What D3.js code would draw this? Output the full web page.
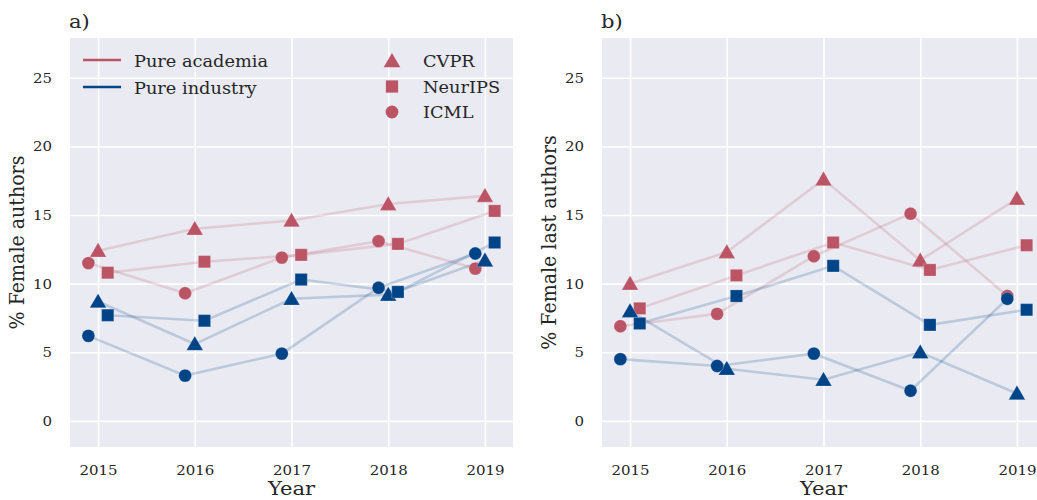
<!DOCTYPE html>
<html lang="en">
  <head>
    <meta charset="UTF-8" />
    <title>Female authors</title>
    <style>
      body { margin: 0; background: #fff; }
      svg text { font-family: "DejaVu Serif", serif; fill: #262626; }
    </style>
  </head>
  <body>
    <div id="chart"></div>
    <script src="https://cdn.jsdelivr.net/npm/d3@7"></script>
    <script>
      var years = [2015, 2016, 2017, 2018, 2019];
      var yTicks = [0, 5, 10, 15, 20, 25];
      var venues = ["CVPR", "NeurIPS", "ICML"];
      var groups = ["Pure academia", "Pure industry"];

      // panel a) % female authors
      var aAcadCVPR = [12.4, 14.0, 14.6, 15.8, 16.4];
      var aAcadNeurIPS = [10.8, 11.6, 12.1, 12.9, 15.3];
      var aAcadICML = [11.5, 9.3, 11.9, 13.1, 11.1];
      var aIndCVPR = [8.7, 5.6, 8.9, 9.2, 11.7];
      var aIndNeurIPS = [7.7, 7.3, 10.3, 9.4, 13.0];
      var aIndICML = [6.2, 3.3, 4.9, 9.7, 12.2];

      // panel b) % female last authors
      var bAcadCVPR = [10.0, 12.3, 17.6, 11.7, 16.2];
      var bAcadNeurIPS = [8.2, 10.6, 13.0, 11.0, 12.8];
      var bAcadICML = [6.9, 7.8, 12.0, 15.1, 9.1];
      var bIndCVPR = [8.0, 3.8, 3.0, 5.0, 2.0];
      var bIndNeurIPS = [7.1, 9.1, 11.3, 7.0, 8.1];
      var bIndICML = [4.5, 4.0, 4.9, 2.2, 8.9];

      var red = "#BB5566", blue = "#004488";
      var offset = { CVPR: 0, NeurIPS: 0.1, ICML: -0.1 };
      var shape = { CVPR: d3.symbolTriangle, NeurIPS: d3.symbolSquare, ICML: d3.symbolCircle };
      var msize = { CVPR: 120, NeurIPS: 150, ICML: 130 };
      var sx = 1.11; // the text in the picture is a bit wider than DejaVu Serif

      var w = 1037, h = 500;
      var svg = d3.select("#chart").append("svg")
                  .attr("width", w)
                  .attr("height", h);

      // put a text at (x,y), stretched horizontally around its anchor
      function label(parent, x, y, size, txt, anchor, rot) {
        return parent.append("text")
          .attr("transform", "translate(" + x + "," + y + ")scale(" + sx + ",1)" + (rot ? "rotate(" + rot + ")" : ""))
          .attr("text-anchor", anchor || "start")
          .attr("font-size", size)
          .text(txt);
      }

      function panel(left, right, name, ylab, data) {
        var top = 38, bottom = 447;
        var g = svg.append("g");
        var xScale = d3.scaleLinear().domain([2014.71, 2019.29]).range([left, right]);
        var yScale = d3.scaleLinear().domain([-1.9, 27.9]).range([bottom, top]);

        var clipId = "clip" + name.charAt(0);
        svg.append("clipPath").attr("id", clipId)
           .append("rect").attr("x", left).attr("y", top)
           .attr("width", Math.min(right, w) - left).attr("height", bottom - top);

        g.append("rect")
         .attr("x", left).attr("y", top)
         .attr("width", right - left).attr("height", bottom - top)
         .attr("fill", "#EAEAF2");

        var xAxis = d3.axisBottom(xScale).tickValues(years).tickFormat(d3.format("d"))
                      .tickSize(-(bottom - top)).tickPadding(18);
        var yAxis = d3.axisLeft(yScale).tickValues(yTicks)
                      .tickSize(-(right - left)).tickPadding(18);
        var gx = g.append("g").attr("transform", "translate(0," + bottom + ")").call(xAxis);
        var gy = g.append("g").attr("transform", "translate(" + left + ",0)").call(yAxis);
        [gx, gy].forEach(function(a) {
          a.select(".domain").remove();
          a.selectAll("line").attr("stroke", "#fff").attr("stroke-width", 1.6);
          a.selectAll("text")
           .attr("font-size", 13.5)
           .style("font-family", "DejaVu Serif, serif")
           .attr("fill", "#262626")
           .each(function() {
             var t = d3.select(this);
             t.attr("transform", "translate(" + (+t.attr("x") || 0) + ",0)scale(" + sx + ",1)").attr("x", 0);
           });
        });

        label(g, left - 1, 28, 19, name);
        label(g, (left + right) / 2, 495, 19, "Year", "middle");
        label(g, left - 46, (top + bottom) / 2, 19, ylab, "middle", -90);

        var plot = g.append("g").attr("clip-path", "url(#" + clipId + ")");
        var line = d3.line()
                     .x(function(d) { return xScale(d.x); })
                     .y(function(d) { return yScale(d.y); });

        data.forEach(function(s) {
          var pts = years.map(function(yr, i) { return { x: yr + offset[s.venue], y: s.values[i] }; });
          plot.append("path").datum(pts)
              .attr("d", line)
              .attr("fill", "none")
              .attr("stroke", s.color)
              .attr("stroke-opacity", 0.2)
              .attr("stroke-width", 2.6);
        });
        data.forEach(function(s) {
          var pts = years.map(function(yr, i) { return { x: yr + offset[s.venue], y: s.values[i] }; });
          plot.selectAll(null).data(pts).enter().append("path")
              .attr("d", d3.symbol().type(shape[s.venue]).size(msize[s.venue]))
              .attr("transform", function(d) {
                var dy = s.venue == "CVPR" ? 1.5 : 0;
                return "translate(" + xScale(d.x) + "," + (yScale(d.y) + dy) + ")";
              })
              .attr("fill", s.color)
              .attr("stroke", "#fff").attr("stroke-opacity", 0.4).attr("stroke-width", 0.6);
        });
        return g;
      }

      function series(ac, an, ai, ic, inn, ii) {
        return [
          { venue: "CVPR", color: red, values: ac },
          { venue: "NeurIPS", color: red, values: an },
          { venue: "ICML", color: red, values: ai },
          { venue: "CVPR", color: blue, values: ic },
          { venue: "NeurIPS", color: blue, values: inn },
          { venue: "ICML", color: blue, values: ii }
        ];
      }

      var ga = panel(70, 513, "a)", "% Female authors",
                     series(aAcadCVPR, aAcadNeurIPS, aAcadICML, aIndCVPR, aIndNeurIPS, aIndICML));
      panel(602, 1045, "b)", "% Female last authors",
            series(bAcadCVPR, bAcadNeurIPS, bAcadICML, bIndCVPR, bIndNeurIPS, bIndICML));

      // legend in panel a: line colours on the left, venue markers on the right
      var leg = ga.append("g");
      groups.forEach(function(name, i) {
        var y = 60 + i * 27;
        leg.append("line").attr("x1", 83).attr("x2", 121).attr("y1", y).attr("y2", y)
           .attr("stroke", i == 0 ? red : blue).attr("stroke-width", 2.4);
        label(leg, 134, y + 6.5, 16, name);
      });
      venues.forEach(function(v, i) {
        var y = 61 + i * 25.5;
        leg.append("path")
           .attr("d", d3.symbol().type(shape[v]).size(msize[v])())
           .attr("transform", "translate(392," + (y + (v == "CVPR" ? 1.5 : 0)) + ")")
           .attr("fill", red);
        label(leg, 423, y + 6, 16, v);
      });
    </script>
  </body>
</html>
